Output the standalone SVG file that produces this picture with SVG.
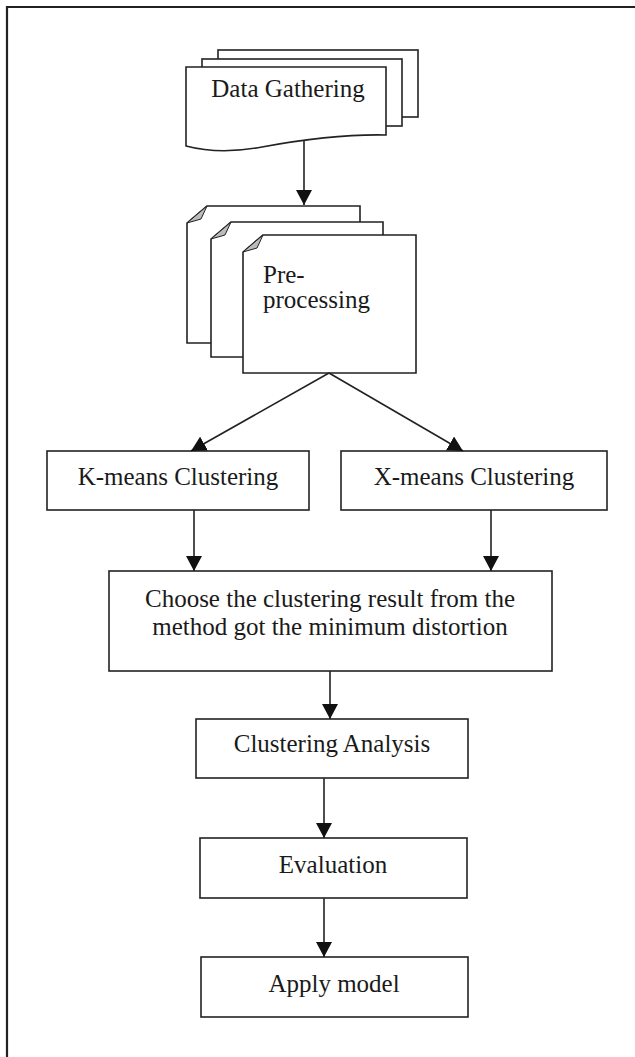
<svg xmlns="http://www.w3.org/2000/svg" width="635" height="1057" viewBox="0 0 635 1057">
<style>
.s{fill:#fff;stroke:#222;stroke-width:1.6}
.t{font-family:"Liberation Serif","Times New Roman",serif;font-size:25px;fill:#1a1a1a}
.m{text-anchor:middle}
.c{fill:none;stroke:#222;stroke-width:1.6}
.f{fill:#bbb;stroke:#222;stroke-width:1}
</style>
<defs>
<marker id="ah" markerUnits="userSpaceOnUse" markerWidth="16" markerHeight="16" refX="15" refY="8" orient="auto" viewBox="0 0 16 16">
<path d="M0,0 L15,8 L0,16 Z" fill="#111"/>
</marker>
</defs>
<rect width="635" height="1057" fill="#fff"/>
<g id="frame">
<path d="M7,1057 V7 H635" fill="none" stroke="#222" stroke-width="2.2"/>
</g>
<g id="data-gathering">
<rect class="s" x="218" y="50" width="200" height="67"/>
<rect class="s" x="202" y="59" width="200" height="67"/>
<path class="s" d="M186,67 H386 V135 C340,134 300,140 262,147 C230,153 205,151 186,146 Z"/>
<text class="t m" x="288" y="97">Data Gathering</text>
</g>
<g id="pre-processing">
<path class="s" d="M207,206 H360 V343 H187 V223 Z"/>
<path class="f" d="M187,223 L207,206 L201,219 Z"/>
<path class="s" d="M231,222 H383 V357 H211 V239 Z"/>
<path class="f" d="M211,239 L231,222 L225,235 Z"/>
<path class="s" d="M263,235 H416 V373 H243 V252 Z"/>
<path class="f" d="M243,252 L263,235 L257,248 Z"/>
<text class="t" x="263" y="283">Pre-</text>
<text class="t" x="263" y="308">processing</text>
</g>
<g id="kmeans">
<rect class="s" x="47" y="451" width="262" height="59"/>
<text class="t m" x="178" y="485">K-means Clustering</text>
</g>
<g id="xmeans">
<rect class="s" x="341" y="451" width="266" height="59"/>
<text class="t m" x="474" y="485">X-means Clustering</text>
</g>
<g id="choose">
<rect class="s" x="109" y="571" width="443" height="100"/>
<text class="t m" x="330" y="607">Choose the clustering result from the</text>
<text class="t m" x="330" y="635">method got the minimum distortion</text>
</g>
<g id="analysis">
<rect class="s" x="196" y="719" width="272" height="59"/>
<text class="t m" x="332" y="752">Clustering Analysis</text>
</g>
<g id="evaluation">
<rect class="s" x="200" y="838" width="267" height="60"/>
<text class="t m" x="333" y="873">Evaluation</text>
</g>
<g id="apply">
<rect class="s" x="201" y="957" width="267" height="60"/>
<text class="t m" x="334" y="992">Apply model</text>
</g>
<g id="connectors">
<path class="c" d="M304,141 V205" marker-end="url(#ah)"/>
<path class="c" d="M329,373 L191,451" marker-end="url(#ah)"/>
<path class="c" d="M329,373 L463,451" marker-end="url(#ah)"/>
<path class="c" d="M194,510 V571" marker-end="url(#ah)"/>
<path class="c" d="M491,510 V571" marker-end="url(#ah)"/>
<path class="c" d="M330,671 V719" marker-end="url(#ah)"/>
<path class="c" d="M324,778 V838" marker-end="url(#ah)"/>
<path class="c" d="M324,898 V957" marker-end="url(#ah)"/>
</g>
</svg>
